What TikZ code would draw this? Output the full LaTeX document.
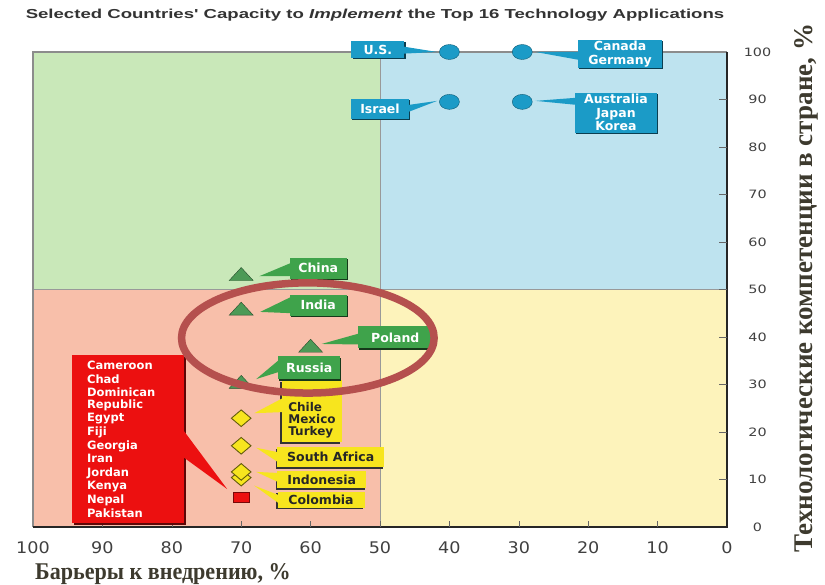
\documentclass[tikz,border=0pt]{standalone}
\usepackage{fontspec}
\setmainfont{Liberation Serif}
\newfontfamily\lblfont{DejaVu Sans}
\newfontfamily\headfont{Liberation Sans}
\usetikzlibrary{shapes.geometric,shadows,calc}
\definecolor{quadgreen}{HTML}{C9E8B9}
\definecolor{quadblue}{HTML}{BEE3EF}
\definecolor{quadred}{HTML}{F8BFAA}
\definecolor{quadyellow}{HTML}{FDF3BB}
\definecolor{dotblue}{HTML}{1B9BC7}
\definecolor{boxgreen}{HTML}{3FA34B}
\definecolor{trigreen}{HTML}{4C9A56}
\definecolor{boxyellow}{HTML}{F7E51E}
\definecolor{boxred}{HTML}{EC1010}
\definecolor{ringred}{HTML}{B5504E}
\definecolor{axisgray}{HTML}{3D3A2E}
\newcommand{\wide}[2][1.2]{\scalebox{#1}[1]{#2}}

\begin{document}
\begin{tikzpicture}[x=1pt, y=1pt,
  every node/.style={inner sep=0pt},
  lbl/.style={font=\lblfont\bfseries\fontsize{12.5}{13.5}\selectfont, align=center},
  bluebox/.style={lbl, fill=dotblue, text=white,
    drop shadow={shadow xshift=1.2pt, shadow yshift=-1.2pt, fill=dotblue!40!black, opacity=1}},
  greenbox/.style={lbl, fill=boxgreen, text=white,
    drop shadow={shadow xshift=1.2pt, shadow yshift=-1.2pt, fill=boxgreen!35!black, opacity=1}},
  yellowbox/.style={lbl, fill=boxyellow, text=black!85,
    drop shadow={shadow xshift=-1.5pt, shadow yshift=-1.5pt, fill=black!80, opacity=1}},
  redbox/.style={lbl, fill=boxred, text=white, align=left,
    drop shadow={shadow xshift=1.5pt, shadow yshift=-1.5pt, fill=boxred!40!black, opacity=1}},
  dot/.style={ellipse, fill=dotblue, draw=dotblue!60!black, minimum width=20pt, minimum height=15pt},
  tri/.style={isosceles triangle, isosceles triangle stretches, shape border rotate=90,
    fill=trigreen, draw=trigreen!50!black, minimum width=24pt, minimum height=13pt},
  gem/.style={diamond, fill=boxyellow, draw=black!60!boxyellow, line width=0.9pt,
    minimum width=20pt, minimum height=17pt},
  ticklbl/.style={font=\lblfont\fontsize{11.5}{13}\selectfont, text=black!75},
  botlbl/.style={font=\lblfont\fontsize{16}{18}\selectfont, text=black!75},
  axtitle/.style={font=\bfseries\fontsize{24}{26}\selectfont, text=axisgray},
]
\useasboundingbox (0,0) rectangle (825,584);

\node[font=\headfont\bfseries\fontsize{13}{15}\selectfont, text=black!80] (title) at (375,569)
  {\wide[1.43]{Selected Countries' Capacity to \textit{Implement} the Top 16 Technology Applications}};

\begin{scope}[shift={(727,57)}, x=-6.94pt, y=4.75pt]
% quadrants
\fill[quadgreen] (100,50) rectangle (50,100);
\fill[quadblue] (50,50) rectangle (0,100);
\fill[quadred] (100,0) rectangle (50,50);
\fill[quadyellow] (50,0) rectangle (0,50);
\draw[black!40, line width=0.6pt] (50,0) -- (50,100) (100,50) -- (0,50);
\draw[black!45, line width=1.5pt] (0,100) -- (100,100) -- (100,0);
\draw[black!85, line width=1.6pt] (100,0) -- (0,0) -- (0,100);
\foreach \t in {10,20,...,90}{
  \draw[black!60] (0,\t) -- ++(1.2,0);
  \draw[black!60] (\t,0) -- ++(0,1.3);
}
\foreach \t in {0,10,...,100}{
  \node[ticklbl] (yt\t) at (-4.4,\t) {\wide[1.25]{\t}};
  \node[botlbl] (xt\t) at (\t,-4.4) {\wide[1.1]{\t}};
}

% markers
\node[dot] (usdot) at (40,100) {};
\node[dot] (cgdot) at (29.5,100) {};
\node[dot] (ildot) at (40,89.5) {};
\node[dot] (ajkdot) at (29.5,89.5) {};
\node[tri] (chinatri) at (70,53) {};
\node[tri] (indiatri) at (70,45.7) {};
\node[tri] (polandtri) at (60,37.9) {};
\node[tri] (russiatri) at (70,30.3) {};
\node[gem] (chiled) at (70,22.9) {};
\node[gem] (safd) at (70,17.1) {};
\node[gem] (colod) at (70,10.4) {};
\node[gem] (indod) at (70,11.6) {};
\node[fill=boxred, draw=boxred!50!black, minimum width=16pt, minimum height=10pt] (redsq) at (70,6.3) {};

% callouts
\node[bluebox, minimum width=53pt, minimum height=17pt] (us) at (50.3,100.5) {U.S.};
\node[bluebox, minimum width=84pt, minimum height=28pt] (cangerm) at (15.4,99.6) {Canada\\Germany};
\node[bluebox, minimum width=58pt, minimum height=20pt] (israel) at (50,88) {Israel};
\node[bluebox, minimum width=82pt, minimum height=40pt] (ajk) at (16,87.2) {Australia\\Japan\\Korea};
\node[greenbox, minimum width=57pt, minimum height=21pt] (china) at (58.9,54.5) {China};
\node[greenbox, minimum width=57pt, minimum height=21pt] (india) at (58.9,46.7) {India};
\node[greenbox, minimum width=74pt, minimum height=22pt] (poland) at (47.8,39.9) {Poland};
\node[yellowbox, minimum width=60pt, minimum height=62pt, align=left,
  font=\lblfont\bfseries\fontsize{12}{12}\selectfont] (chile) at (59.8,24.4)
  {\rule{0pt}{28pt}Chile\\Mexico\\Turkey};
\node[greenbox, minimum width=62pt, minimum height=23pt] (russia) at (60.2,33.5) {Russia};
\node[yellowbox, minimum width=107pt, minimum height=20pt] (safrica) at (57.1,14.7) {South Africa};
\node[yellowbox, minimum width=89pt, minimum height=17pt] (indonesia) at (58.4,9.9) {Indonesia};
\node[yellowbox, minimum width=87pt, minimum height=16pt] (colombia) at (58.5,5.7) {Colombia};
\node[redbox, minimum width=112pt, minimum height=168pt, text width=82pt,
  font=\lblfont\bfseries\fontsize{11.5}{13.6}\selectfont] (poor) at (86.3,18.5)
  {Cameroon\\Chad\\Dominican\\[-2pt]Republic\\Egypt\\Fiji\\Georgia\\Iran\\Jordan\\Kenya\\Nepal\\Pakistan};

% tails
\fill[dotblue] ([xshift=-1pt,yshift=3pt]us.east) -- ([xshift=-2pt]usdot.west) -- ([xshift=-1pt,yshift=-4pt]us.east) -- cycle;
\fill[dotblue] ([xshift=1pt,yshift=2pt]cangerm.west) -- ([xshift=3pt]cgdot.east) -- ([xshift=1pt,yshift=-6pt]cangerm.west) -- cycle;
\fill[dotblue] ([xshift=-1pt,yshift=4pt]israel.east) -- ([xshift=-2pt,yshift=1pt]ildot.west) -- ([xshift=-1pt,yshift=-3pt]israel.east) -- cycle;
\fill[dotblue] ([xshift=1pt,yshift=15pt]ajk.west) -- ([xshift=3pt,yshift=1pt]ajkdot.east) -- ([xshift=1pt,yshift=8pt]ajk.west) -- cycle;
\fill[boxgreen] ([xshift=1pt,yshift=5pt]china.west) -- ($(chinatri.center)+(18pt,-1pt)$) -- ([xshift=1pt,yshift=-8pt]china.west) -- cycle;
\fill[boxgreen] ([xshift=1pt,yshift=8pt]india.west) -- ($(indiatri.center)+(19pt,-2pt)$) -- ([xshift=1pt,yshift=-8pt]india.west) -- cycle;
\fill[boxgreen] ([xshift=1pt,yshift=4pt]poland.west) -- ($(polandtri.center)+(11pt,3pt)$) -- ([xshift=1pt,yshift=-7pt]poland.west) -- cycle;
\fill[boxgreen] ([xshift=1pt,yshift=8pt]russia.west) -- ($(russiatri.center)+(15pt,4pt)$) -- ([xshift=1pt,yshift=-4pt]russia.west) -- cycle;
\fill[boxyellow] ([xshift=1pt,yshift=13pt]chile.west) -- ($(chiled.center)+(13pt,5pt)$) -- ([xshift=1pt,yshift=-1pt]chile.west) -- cycle;
\fill[boxyellow] ([xshift=1pt,yshift=5pt]safrica.west) -- ($(safd.center)+(15pt,-2pt)$) -- ([xshift=1pt,yshift=-5pt]safrica.west) -- cycle;
\fill[boxyellow] ([xshift=1pt,yshift=7pt]indonesia.west) -- ($(indod.center)+(15pt,0pt)$) -- ([xshift=1pt,yshift=-2pt]indonesia.west) -- cycle;
\fill[boxyellow] ([xshift=1pt,yshift=5pt]colombia.west) -- ($(colod.center)+(13pt,-8pt)$) -- ([xshift=1pt,yshift=-3pt]colombia.west) -- cycle;
\fill[boxred] ([xshift=-1pt,yshift=9pt]poor.east) -- ($(redsq.center)+(-14pt,8pt)$) -- ([xshift=-1pt,yshift=-18pt]poor.east) -- cycle;

% highlight ring
\draw[ringred, line width=7.5pt] (60.4,39.8) ellipse [x radius=18.2, y radius=11.6];
\end{scope}

\node[axtitle, font=\bfseries\fontsize{27}{29}\selectfont, rotate=90] (comptitle) at (806,296)
  {Технологические компетенции в стране, \%};
\node[axtitle, anchor=base west] (bartitle) at (35,5) {\wide[0.92]{Барьеры к внедрению, \%}};
\end{tikzpicture}
\end{document}
